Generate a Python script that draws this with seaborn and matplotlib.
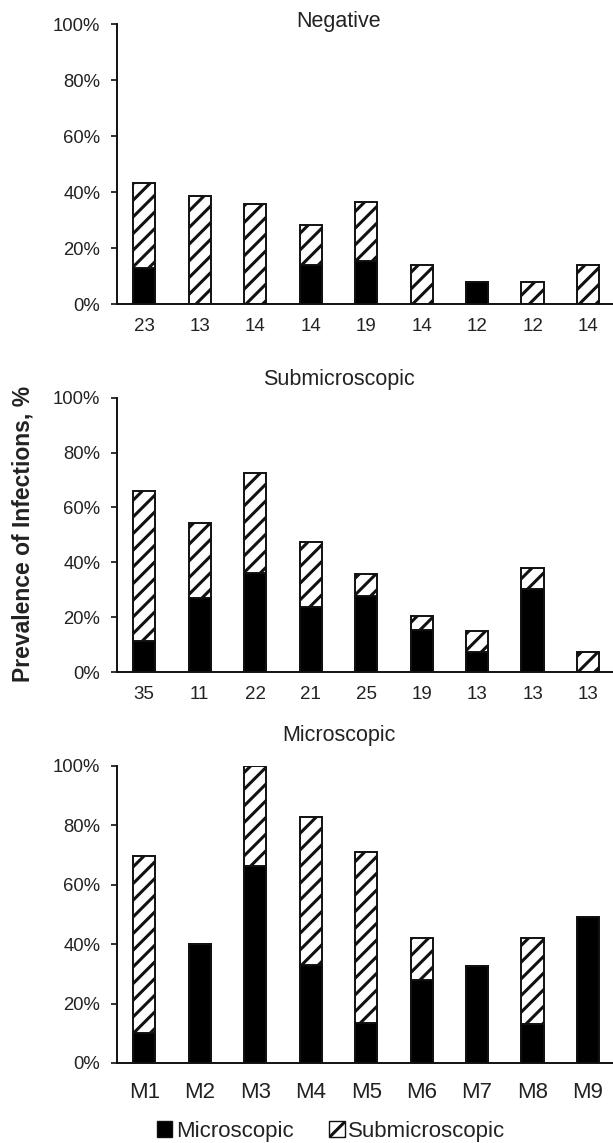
import numpy as np
import pandas as pd
import matplotlib
matplotlib.use('Agg')
import matplotlib.pyplot as plt
import seaborn as sns
from matplotlib.patches import Patch

# Data
sites = ['M1', 'M2', 'M3', 'M4', 'M5', 'M6', 'M7', 'M8', 'M9']

neg_n = ['23', '13', '14', '14', '19', '14', '12', '12', '14']
neg_total = [43.4, 38.5, 35.6, 28.3, 36.5, 14.0, 8.0, 7.8, 13.9]
neg_micro = [13.0, 0, 0, 13.8, 15.5, 0, 8.0, 0, 0]

sub_n = ['35', '11', '22', '21', '25', '19', '13', '13', '13']
sub_total = [65.9, 54.5, 72.4, 47.3, 35.8, 20.6, 14.8, 38.0, 7.5]
sub_micro = [11.4, 27.1, 36.2, 23.7, 27.8, 15.4, 7.5, 30.3, 0]

mic_total = [69.8, 40.0, 100.0, 82.8, 70.9, 42.1, 32.6, 41.9, 49.0]
mic_micro = [10.0, 40.0, 66.3, 33.1, 13.4, 27.9, 32.6, 13.0, 49.0]

panel_titles = ['Negative', 'Submicroscopic', 'Microscopic']
yticks = [0, 20, 40, 60, 80, 100]

sns.set_theme(style='white')
plt.rcParams['font.family'] = ['Liberation Sans', 'DejaVu Sans']
plt.rcParams['hatch.linewidth'] = 2.2
plt.rcParams['hatch.color'] = '#111111'

fig = plt.figure(figsize=(6.13, 11.43), dpi=100)

# [left, bottom, width, height] for each panel
boxes = [
    [0.191, 0.734, 0.809, 0.245],
    [0.191, 0.412, 0.809, 0.240],
    [0.191, 0.070, 0.809, 0.260],
]
title_y = [1 - 21 / 1143, 1 - 379 / 1143, 1 - 735 / 1143]

panels = [
    (neg_total, neg_micro, neg_n, 13.5, 10),
    (sub_total, sub_micro, sub_n, 13.5, 10),
    (mic_total, mic_micro, sites, 16, 14),
]

for i, (total, micro, labels, lab_size, lab_pad) in enumerate(panels):
    ax = fig.add_axes(boxes[i])
    df = pd.DataFrame({'site': sites, 'total': total, 'micro': micro})
    sns.barplot(data=df, x='site', y='total', order=sites, color='white',
                saturation=1, width=0.4, edgecolor='#111111', linewidth=1.4,
                hatch='//', ax=ax)
    sns.barplot(data=df, x='site', y='micro', order=sites, color='black',
                saturation=1, width=0.4, edgecolor='#111111', linewidth=1.4,
                ax=ax)
    ax.set_xlim(-0.49, 8.45)
    ax.set_ylim(0, 100)
    ax.set_yticks(yticks)
    ax.set_yticklabels([f'{v}%' for v in yticks], fontsize=13.3, color='#222222')
    ax.set_xticks(range(len(sites)))
    ax.set_xticklabels(labels, fontsize=lab_size, color='#222222')
    ax.tick_params(axis='y', length=4, width=1.2, pad=8, left=True, color='#111111')
    ax.tick_params(axis='x', length=0, pad=lab_pad)
    ax.set_xlabel('')
    ax.set_ylabel('')
    for side in ['top', 'right']:
        ax.spines[side].set_visible(False)
    for side in ['left', 'bottom']:
        ax.spines[side].set_color('#111111')
        ax.spines[side].set_linewidth(1.4)
    ax.patch.set_alpha(0)
    fig.text(0.553, title_y[i], panel_titles[i], ha='center', va='center',
             fontsize=15.5, color='#222222')

fig.text(0.0375, 0.533, 'Prevalence of Infections, %', rotation=90,
         ha='center', va='center', fontsize=16.5, fontweight='bold',
         color='#222222')

handles = [
    Patch(facecolor='black', edgecolor='#111111', label='Microscopic'),
    Patch(facecolor='white', edgecolor='#111111', hatch='//', label='Submicroscopic'),
]
fig.legend(handles=handles, loc='center', bbox_to_anchor=(0.54, 1 - 1131 / 1143),
           ncol=2, frameon=False, fontsize=16, handlelength=0.7, handleheight=0.7,
           handletextpad=0.15, columnspacing=1.6, labelcolor='#222222')

fig.savefig('out.png', dpi=100, facecolor='white')
